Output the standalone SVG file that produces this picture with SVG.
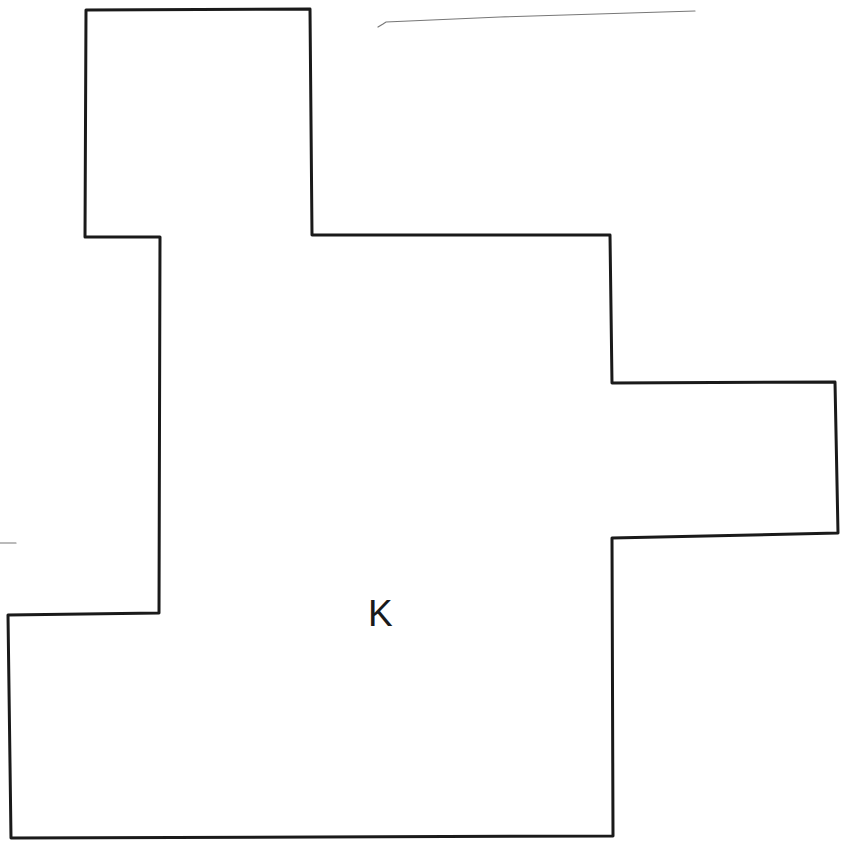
<svg xmlns="http://www.w3.org/2000/svg" width="853" height="842" viewBox="0 0 853 842">
<style>
.outline{fill:none;stroke:#1a1a1a;stroke-width:3;stroke-linejoin:round;stroke-linecap:round}
.faint{fill:none;stroke:#777;stroke-width:1.2;stroke-linecap:round}
.label{font-family:"Liberation Sans",Arial,sans-serif;font-size:37px;fill:#1a1a1a}
</style>
<rect width="853" height="842" fill="#fff"/>
<g id="plan">
<path class="outline" d="M86,10 L310,9 L312,235 L610,235 L612,383 L835,382 L838,533 L612,538 L613,836 L11,838 L8,615 L159,613 L160,237 L85,237 Z"/>
</g>
<g id="marks">
<path class="faint" d="M378,27 L383,24 L386,22 L500,17 L695,11"/>
<path class="faint" d="M0,543 L16,543"/>
</g>
<g id="label-k">
<text class="label" x="368" y="626">K</text>
</g>
</svg>
